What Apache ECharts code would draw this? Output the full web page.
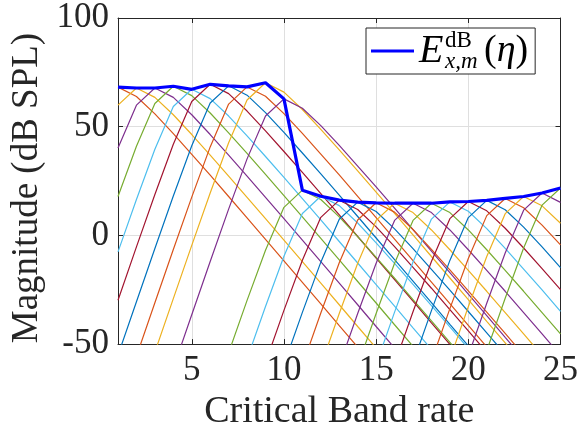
<!DOCTYPE html>
<html>
<head>
<meta charset="utf-8">
<script src="https://cdn.jsdelivr.net/npm/echarts@6/dist/echarts.min.js"></script>
<style>
html,body{margin:0;padding:0;background:#ffffff;}
#chart{width:581px;height:436px;}
</style>
</head>
<body>
<div id="chart"></div>
<script>
// Critical band numbers (x values)
const bands = [1,2,3,4,5,6,7,8,9,10,11,12,13,14,15,16,17,18,19,20,21,22,23,24,25];
// Excitation envelope E (dB SPL)
const envelope = [68.2,67.8,67.8,68.6,67.2,69.5,68.8,68.3,70.2,62.8,20.8,18.0,16.2,15.3,15.0,14.8,14.8,14.8,15.4,15.6,16.1,17.0,17.9,19.5,21.8];
const xTicks = [5,10,15,20,25];
const yTicks = [-50,0,50,100];

// Spreading curves, one per band (values at bands 1..25, null = off-chart)
const sf01 = [68.2,63.9,55.9,46.8,37.3,27.7,17.9,8.1,-1.8,-11.7,-21.6,-31.5,-41.5,-51.4,null,null,null,null,null,null,null,null,null,null,null];
const sf02 = [59.9,67.8,63.5,55.5,46.4,36.9,27.3,17.5,7.7,-2.2,-12.1,-22.0,-31.9,-41.9,-51.8,null,null,null,null,null,null,null,null,null,null];
const sf03 = [40.2,59.9,67.8,63.5,55.5,46.4,36.9,27.3,17.5,7.7,-2.2,-12.1,-22.0,-31.9,-41.9,-51.8,null,null,null,null,null,null,null,null,null];
const sf04 = [17.9,41.0,60.7,68.6,64.3,56.3,47.2,37.7,28.1,18.3,8.5,-1.4,-11.3,-21.2,-31.1,-41.1,-51.0,null,null,null,null,null,null,null,null];
const sf05 = [-7.6,16.5,39.6,59.3,67.2,62.9,54.9,45.8,36.3,26.7,16.9,7.1,-2.8,-12.7,-22.6,-32.5,-42.5,-52.4,null,null,null,null,null,null,null];
const sf06 = [-29.8,-5.3,18.8,41.9,61.6,69.5,65.2,57.2,48.1,38.6,29.0,19.2,9.4,-0.5,-10.4,-20.3,-30.2,-40.2,-50.1,null,null,null,null,null,null];
const sf07 = [-55.1,-30.5,-6.0,18.1,41.2,60.9,68.8,64.5,56.5,47.4,37.9,28.3,18.5,8.7,-1.2,-11.1,-21.0,-30.9,-40.9,-50.8,null,null,null,null,null];
const sf08 = [null,-55.6,-31.0,-6.5,17.6,40.7,60.4,68.3,64.0,56.0,46.9,37.4,27.8,18.0,8.2,-1.7,-11.6,-21.5,-31.4,-41.4,-51.3,null,null,null,null];
const sf09 = [null,null,-53.7,-29.1,-4.6,19.5,42.6,62.3,70.2,65.9,57.9,48.8,39.3,29.7,19.9,10.1,0.2,-9.7,-19.6,-29.5,-39.5,-49.4,-59.4,null,null];
const sf10 = [null,null,null,-61.1,-36.5,-12.0,12.1,35.2,54.9,62.8,58.5,50.5,41.4,31.9,22.3,12.5,2.7,-7.2,-17.1,-27.0,-36.9,-46.9,-56.8,null,null];
const sf11 = [null,null,null,null,null,null,-54.0,-29.9,-6.8,12.9,20.8,16.5,8.5,-0.6,-10.1,-19.7,-29.5,-39.3,-49.2,-59.1,null,null,null,null,null];
const sf12 = [null,null,null,null,null,null,null,-56.8,-32.7,-9.6,10.1,18.0,13.7,5.7,-3.4,-12.9,-22.5,-32.3,-42.1,-52.0,null,null,null,null,null];
const sf13 = [null,null,null,null,null,null,null,null,-58.6,-34.5,-11.4,8.3,16.2,11.9,3.9,-5.2,-14.7,-24.3,-34.1,-43.9,-53.8,null,null,null,null];
const sf14 = [null,null,null,null,null,null,null,null,null,-59.5,-35.4,-12.3,7.4,15.3,11.0,3.0,-6.1,-15.6,-25.2,-35.0,-44.8,-54.7,null,null,null];
const sf15 = [null,null,null,null,null,null,null,null,null,null,-59.8,-35.7,-12.6,7.1,15.0,10.7,2.7,-6.4,-15.9,-25.5,-35.3,-45.1,-55.0,null,null];
const sf16 = [null,null,null,null,null,null,null,null,null,null,null,-60.0,-35.9,-12.8,6.9,14.8,10.5,2.5,-6.6,-16.1,-25.7,-35.5,-45.3,-55.2,null];
const sf17 = [null,null,null,null,null,null,null,null,null,null,null,null,-60.0,-35.9,-12.8,6.9,14.8,10.5,2.5,-6.6,-16.1,-25.7,-35.5,-45.3,-55.2];
const sf18 = [null,null,null,null,null,null,null,null,null,null,null,null,null,-60.0,-35.9,-12.8,6.9,14.8,10.5,2.5,-6.6,-16.1,-25.7,-35.5,-45.3];
const sf19 = [null,null,null,null,null,null,null,null,null,null,null,null,null,null,-59.4,-35.3,-12.2,7.5,15.4,11.1,3.1,-6.0,-15.5,-25.1,-34.9];
const sf20 = [null,null,null,null,null,null,null,null,null,null,null,null,null,null,null,-59.2,-35.1,-12.0,7.7,15.6,11.3,3.3,-5.8,-15.3,-24.9];
const sf21 = [null,null,null,null,null,null,null,null,null,null,null,null,null,null,null,null,-58.7,-34.6,-11.5,8.2,16.1,11.8,3.8,-5.3,-14.8];
const sf22 = [null,null,null,null,null,null,null,null,null,null,null,null,null,null,null,null,null,-57.8,-33.7,-10.6,9.1,17.0,12.7,4.7,-4.4];
const sf23 = [null,null,null,null,null,null,null,null,null,null,null,null,null,null,null,null,null,null,-56.9,-32.8,-9.7,10.0,17.9,13.6,5.6];
const sf24 = [null,null,null,null,null,null,null,null,null,null,null,null,null,null,null,null,null,null,null,-55.3,-31.2,-8.1,11.6,19.5,15.2];
const sf25 = [null,null,null,null,null,null,null,null,null,null,null,null,null,null,null,null,null,null,null,null,-53.0,-28.9,-5.8,13.9,21.8];

const curves = [sf01,sf02,sf03,sf04,sf05,sf06,sf07,sf08,sf09,sf10,sf11,sf12,sf13,sf14,sf15,sf16,sf17,sf18,sf19,sf20,sf21,sf22,sf23,sf24,sf25];

// MATLAB default colour order; band 1 starts at the 2nd colour
const palette = ['#0072BD','#D95319','#EDB120','#7E2F8E','#77AC30','#4DBEEE','#A2142F'];

const FONT = "'Liberation Serif','Times New Roman',serif";
const AX = '#262626';
const GRID = '#dfdfdf';

function toPairs(vals) {
  const out = [];
  vals.forEach((v, i) => { if (v !== null) out.push([bands[i], v]); });
  return out;
}

const series = curves.map((c, i) => ({
  name: 'band' + (i + 1),
  type: 'line',
  data: toPairs(c),
  symbol: 'none',
  clip: true,
  silent: true,
  lineStyle: { width: 1.2, color: palette[(i + 1) % 7] },
  z: 2
}));
series.push({
  name: 'E',
  type: 'line',
  data: toPairs(envelope),
  symbol: 'none',
  clip: true,
  lineStyle: { width: 3.2, color: '#0000FF' },
  itemStyle: { color: '#0000FF' },
  z: 3
});

const chart = echarts.init(document.getElementById('chart'), null, { renderer: 'canvas' });
chart.setOption({
  animation: false,
  backgroundColor: '#ffffff',
  grid: { left: 118, right: 18, top: 18, bottom: 88, containLabel: false },
  xAxis: [{
    type: 'value', min: 1, max: 25,
    name: 'Critical Band rate', nameLocation: 'middle', nameGap: 42,
    nameTextStyle: { fontFamily: FONT, fontSize: 38, color: AX },
    axisLine: { show: true, onZero: false, lineStyle: { color: AX, width: 1 } },
    axisTick: { show: true, inside: true, length: 5, customValues: xTicks, lineStyle: { color: AX } },
    axisLabel: { show: true, customValues: xTicks, margin: 9, fontFamily: FONT, fontSize: 35, color: AX },
    splitLine: { show: true, lineStyle: { color: GRID, width: 1 } }
  }, {
    type: 'value', min: 1, max: 25, position: 'top',
    axisLine: { show: true, onZero: false, lineStyle: { color: AX, width: 1 } },
    axisTick: { show: true, inside: true, length: 5, customValues: xTicks, lineStyle: { color: AX } },
    axisLabel: { show: false },
    splitLine: { show: false }
  }],
  yAxis: [{
    type: 'value', min: -50, max: 100, interval: 50,
    name: 'Magnitude (dB SPL)', nameLocation: 'middle', nameGap: 72,
    nameTextStyle: { fontFamily: FONT, fontSize: 37, color: AX, padding: [0, 14, 0, 0] },
    axisLine: { show: true, onZero: false, lineStyle: { color: AX, width: 1 } },
    axisTick: { show: true, inside: true, length: 5, lineStyle: { color: AX } },
    axisLabel: { show: true, margin: 9, fontFamily: FONT, fontSize: 35, color: AX },
    splitLine: { show: true, lineStyle: { color: GRID, width: 1 } }
  }, {
    type: 'value', min: -50, max: 100, interval: 50, position: 'right',
    axisLine: { show: true, onZero: false, lineStyle: { color: AX, width: 1 } },
    axisTick: { show: true, inside: true, length: 5, lineStyle: { color: AX } },
    axisLabel: { show: false },
    splitLine: { show: false }
  }],
  legend: {
    data: ['E'],
    left: 366, top: 28,
    padding: [1, 7, 1, 5],
    backgroundColor: '#ffffff',
    borderColor: AX, borderWidth: 1, borderRadius: 0,
    icon: 'rect',
    itemWidth: 43, itemHeight: 3,
    itemStyle: { color: '#0000FF' },
    selectedMode: false,
    formatter: function () { return '{E|E}{sup|dB}{sub|x,m}{lp|(}{eta|η}{rp|)}'; },
    textStyle: {
      fontFamily: FONT, fontSize: 36, color: '#000',
      rich: {
        E: { fontFamily: FONT, fontStyle: 'italic', fontSize: 40, lineHeight: 44, width: 26, verticalAlign: 'middle', color: '#000' },
        sup: { fontFamily: FONT, fontSize: 23, lineHeight: 22, width: 0, verticalAlign: 'top', color: '#000' },
        sub: { fontFamily: FONT, fontStyle: 'italic', fontSize: 23, lineHeight: 30, width: 39, verticalAlign: 'bottom', color: '#000' },
        lp: { fontFamily: FONT, fontSize: 38, lineHeight: 44, verticalAlign: 'middle', color: '#000' },
        eta: { fontFamily: FONT, fontStyle: 'italic', fontSize: 38, lineHeight: 44, verticalAlign: 'middle', color: '#000' },
        rp: { fontFamily: FONT, fontSize: 38, lineHeight: 44, verticalAlign: 'middle', color: '#000' }
      }
    }
  },
  series: series
});
</script>
</body>
</html>
